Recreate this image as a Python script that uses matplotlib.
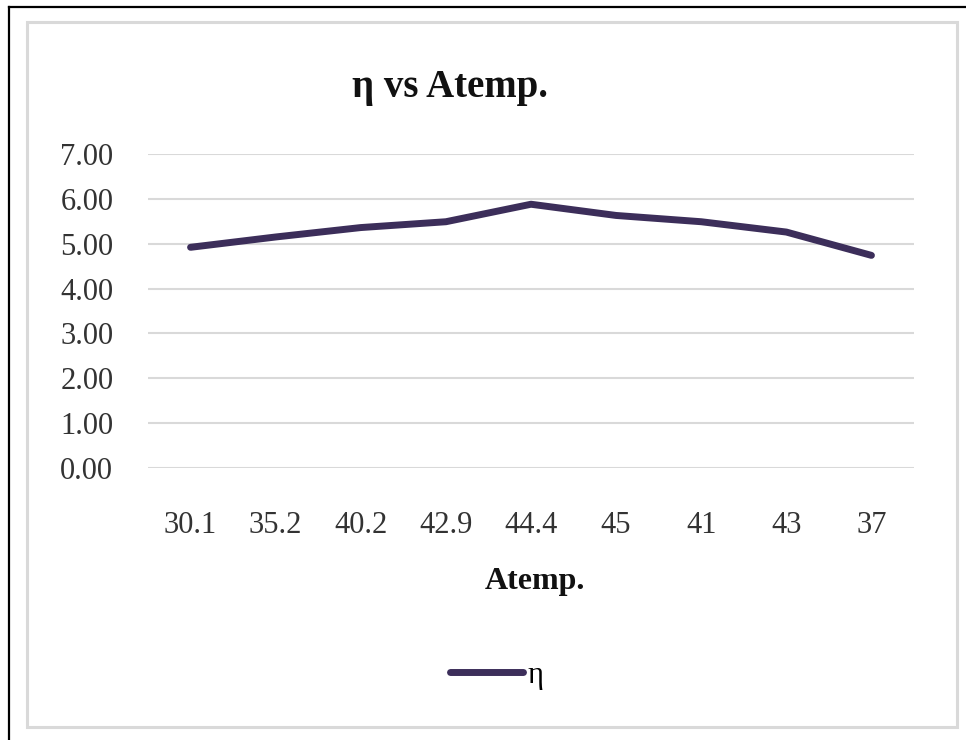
import matplotlib.pyplot as plt
from matplotlib.patches import Rectangle
from matplotlib.lines import Line2D

# efficiency against ambient temperature
atemp = ['30.1', '35.2', '40.2', '42.9', '44.4', '45', '41', '43', '37']
eta = [4.92, 5.15, 5.36, 5.49, 5.88, 5.63, 5.49, 5.26, 4.74]
yticks = [0, 1, 2, 3, 4, 5, 6, 7]

lineColor = '#3c2e5a'
gridColor = '#d9d9d9'
W, H = 966, 740

plt.rcParams['font.family'] = ['Liberation Serif', 'DejaVu Serif']

fig = plt.figure(figsize=(W / 100, H / 100), dpi=100)
fig.set_facecolor('white')

# outer border (top and left only) and the light chart frame
fig.add_artist(Line2D([9 / W, 1], [1 - 7 / H, 1 - 7 / H], color='black', lw=1.6))
fig.add_artist(Line2D([9 / W, 9 / W], [0, 1 - 7 / H], color='black', lw=1.6))
fig.add_artist(Rectangle((27 / W, 1 - 727 / H), 930 / W, 705 / H, fill=False,
                         edgecolor=gridColor, lw=2.2))

ax = fig.add_axes([148 / W, 1 - 468 / H, 766 / W, 314 / H])
x = range(len(atemp))
ax.plot(x, eta, color=lineColor, lw=5, solid_capstyle='round', solid_joinstyle='round', label='η')
ax.set_xlim(-0.5, len(atemp) - 0.5)
ax.set_ylim(0, 7)
ax.set_yticks(yticks)
ax.set_yticklabels([f'{v:.2f}' for v in yticks])
ax.set_xticks(list(x))
ax.set_xticklabels(atemp)
ax.grid(axis='y', color=gridColor, lw=1.5)
ax.set_axisbelow(True)
for s in ax.spines.values():
    s.set_visible(False)
ax.tick_params(axis='y', length=0, pad=25, labelsize=22, labelcolor='#333333')
ax.tick_params(axis='x', length=0, pad=31, labelsize=22, labelcolor='#333333')

fig.text(450 / W, 1 - 88 / H, 'η vs Atemp.', ha='center', va='center',
         fontsize=28, fontweight='bold', color='#111111')
fig.text(535 / W, 1 - 582 / H, 'Atemp.', ha='center', va='center',
         fontsize=23, fontweight='bold', color='#111111')

fig.legend(loc='center', bbox_to_anchor=(497 / W, 1 - 675 / H), frameon=False,
           fontsize=22, handlelength=2.4, handletextpad=0.15)

fig.savefig('out.png', dpi=100)
